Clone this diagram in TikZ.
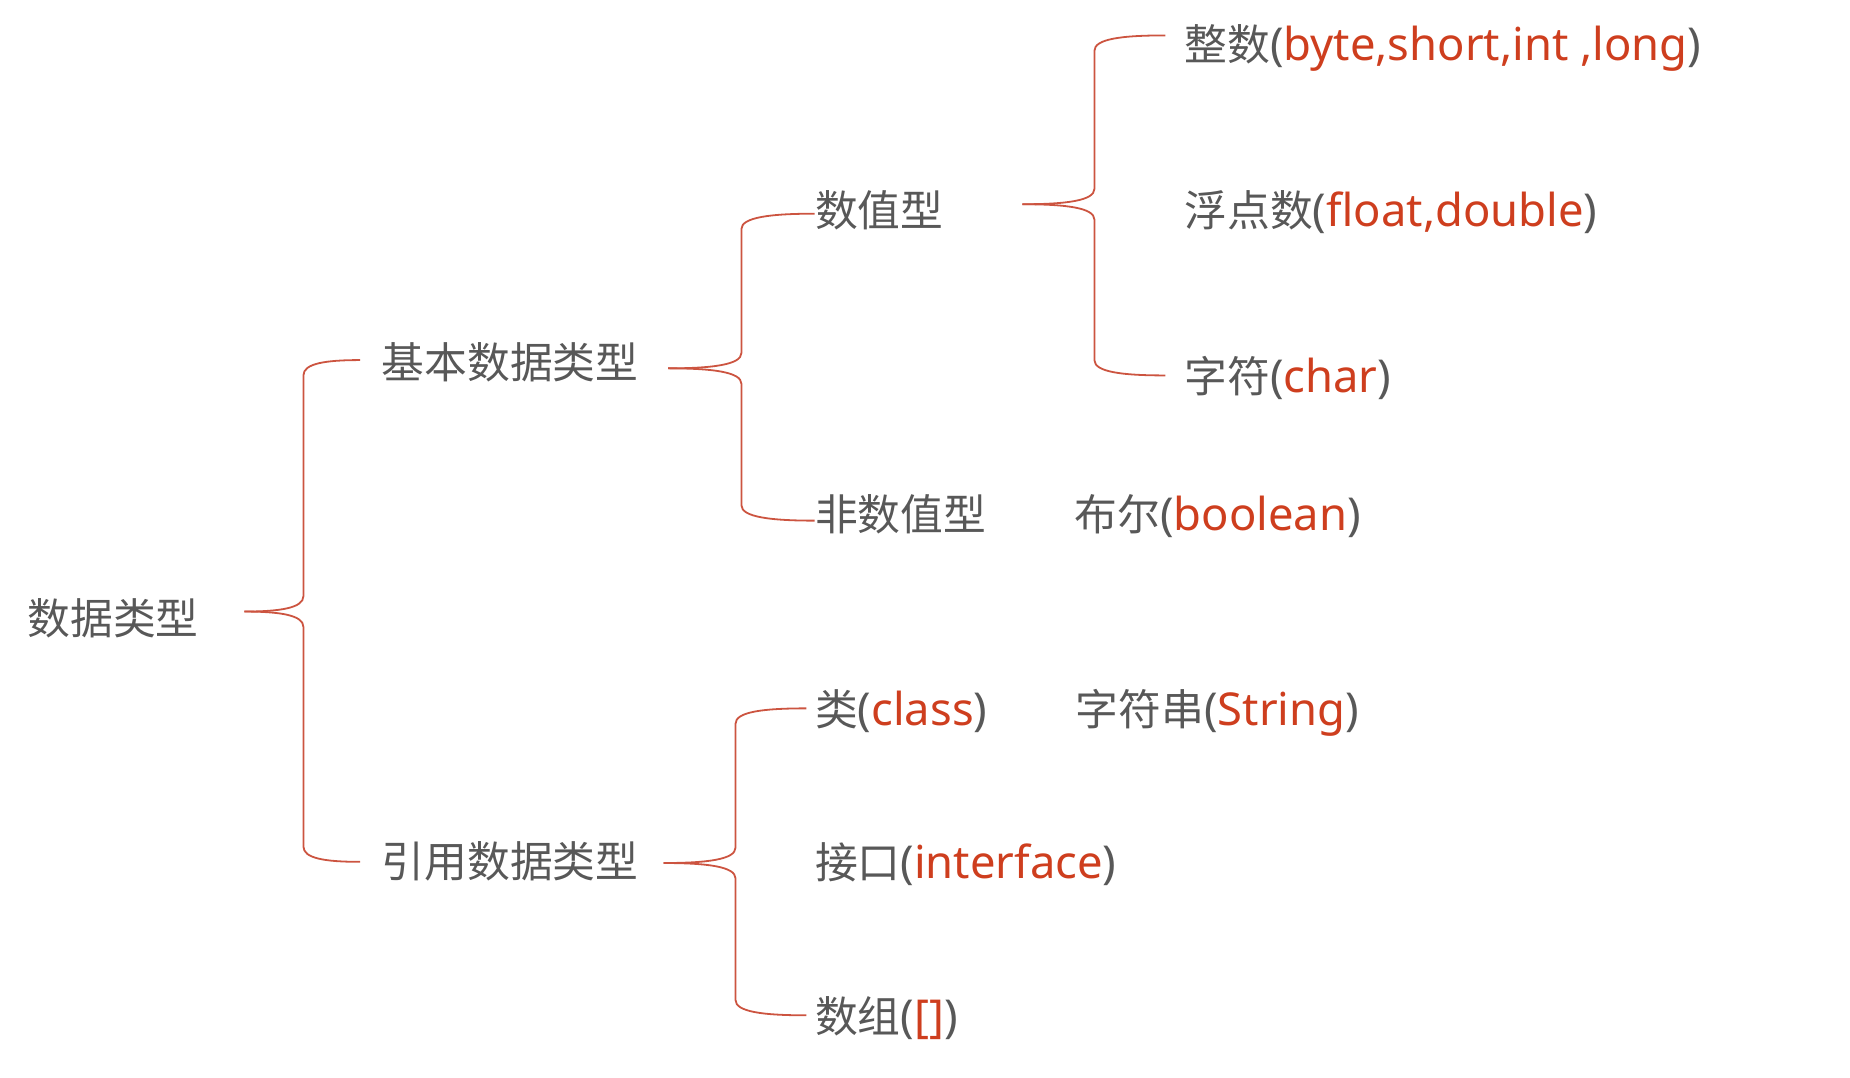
\documentclass[tikz,border=0pt]{standalone}
\usepackage{fontspec}
\setmainfont{Noto Sans CJK SC}
\newfontfamily\latinf{Noto Sans}[Scale=1.06]
\usetikzlibrary{calc}
\definecolor{tgray}{RGB}{88,88,88}
\definecolor{tred}{RGB}{206,62,30}
\definecolor{lred}{RGB}{204,84,64}
\newcommand\pp[1]{{\latinf(\textcolor{tred}{#1})}}
\begin{document}
\begin{tikzpicture}[x=0.5905pt,y=-0.5905pt,
  lbl/.style={anchor=west,inner sep=0pt,text=tgray,font=\fontsize{21.4pt}{25pt}\selectfont,text height=1.56em,text depth=0.12em},
  br/.style={draw=lred,line width=0.9pt}]
\useasboundingbox (0,0) rectangle (1567,913);
% nodes
\node[lbl] (root)   at (23,525)  {数据类型};
\node[lbl] (kb)     at (323,308) {基本数据类型};
\node[lbl] (ref)    at (323,731) {引用数据类型};
\node[lbl] (num)    at (690,180) {数值型};
\node[lbl] (nonnum) at (690,437) {非数值型};
\node[lbl] (bool)   at (910,437) {布尔\pp{boolean}};
\node[lbl] (int)    at (1003,39) {整数\pp{byte,short,int ,long}};
\node[lbl] (float)  at (1003,180) {浮点数\pp{float,double}};
\node[lbl] (char)   at (1003,320) {字符\pp{char}};
\node[lbl] (cls)    at (690,602) {类\pp{class}};
\node[lbl] (str)    at (911,602) {字符串\pp{String}};
\node[lbl] (iface)  at (690,732) {接口\pp{interface}};
\node[lbl] (arr)    at (690,862) {数组\pp{[]}};
% brace tips and ends
\coordinate (b1t) at (207,518);
\coordinate (b1a) at ($(kb.west)+(-18,-3)$);
\coordinate (b1b) at ($(ref.west)+(-18,-1)$);
\coordinate (b2t) at (566,312);
\coordinate (b2a) at ($(num.west)+(0,1)$);
\coordinate (b2b) at ($(nonnum.west)+(0,4)$);
\coordinate (b3t) at (866,173);
\coordinate (b3a) at ($(int.west)+(-16,-9)$);
\coordinate (b3b) at ($(char.west)+(-16,-2)$);
\coordinate (b4t) at (562,731);
\coordinate (b4a) at ($(cls.west)+(-7,-2)$);
\coordinate (b4b) at ($(arr.west)+(-7,-2)$);
% brace 1
\draw[br] (b1t) .. controls +(30,0) and +(0,10) .. (257,505) -- (257,318) .. controls +(0,-10) and +(-30,0) .. (b1a);
\draw[br] (b1t) .. controls +(30,0) and +(0,-10) .. (257,531) -- (257,717) .. controls +(0,10) and +(-30,0) .. (b1b);
% brace 2
\draw[br] (b2t) .. controls +(37,0) and +(0,10) .. (628,299) -- (628,194) .. controls +(0,-10) and +(-37,0) .. (b2a);
\draw[br] (b2t) .. controls +(37,0) and +(0,-10) .. (628,325) -- (628,428) .. controls +(0,10) and +(-37,0) .. (b2b);
% brace 3
\draw[br] (b3t) .. controls +(37,0) and +(0,10) .. (927,160) -- (927,43) .. controls +(0,-10) and +(-37,0) .. (b3a);
\draw[br] (b3t) .. controls +(37,0) and +(0,-10) .. (927,186) -- (927,305) .. controls +(0,10) and +(-37,0) .. (b3b);
% brace 4
\draw[br] (b4t) .. controls +(37,0) and +(0,10) .. (623,718) -- (623,613) .. controls +(0,-10) and +(-37,0) .. (b4a);
\draw[br] (b4t) .. controls +(37,0) and +(0,-10) .. (623,744) -- (623,847) .. controls +(0,10) and +(-37,0) .. (b4b);
\end{tikzpicture}
\end{document}
